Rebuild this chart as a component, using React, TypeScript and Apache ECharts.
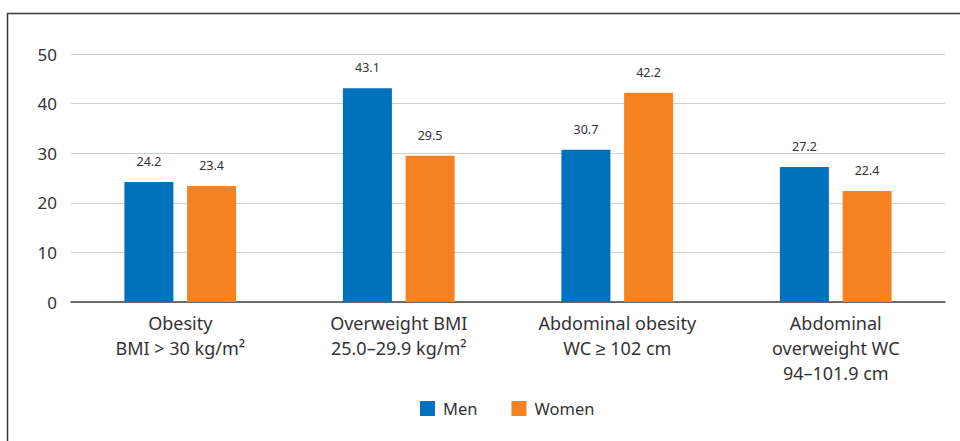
import React, { useEffect, useRef } from "react";
import * as echarts from "echarts";

const categories = [
  "Obesity\nBMI > 30 kg/m²",
  "Overweight BMI\n25.0–29.9 kg/m²",
  "Abdominal obesity\nWC ≥ 102 cm",
  "Abdominal\noverweight WC\n94–101.9 cm",
];
const men = [24.2, 43.1, 30.7, 27.2];
const women = [23.4, 29.5, 42.2, 22.4];
const seriesNames = ["Men", "Women"];

const FONT = "'Noto Sans', sans-serif";

export default function App() {
  const ref = useRef<HTMLDivElement>(null);
  useEffect(() => {
    document.body.style.margin = "0";
    const chart = echarts.init(ref.current!, null, { renderer: "svg" });
    const label = {
      show: true,
      position: "top" as const,
      distance: 14,
      color: "#333",
      fontSize: 12.5,
      fontFamily: FONT,
      formatter: (p: any) => p.value.toFixed(1),
    };
    chart.setOption({
      animation: false,
      textStyle: { fontFamily: FONT },
      graphic: [
        {
          type: "rect",
          shape: { x: 7.5, y: 13.5, width: 1000, height: 600 },
          style: { fill: "none", stroke: "#3a3a3a", lineWidth: 1.5 },
          silent: true,
        },
      ],
      grid: { left: 71, right: 15, top: 54, bottom: 139 },
      legend: {
        data: seriesNames,
        top: 395,
        left: 415,
        itemWidth: 15,
        itemHeight: 15,
        itemGap: 34,
        icon: "rect",
        textStyle: {
          fontSize: 16.5,
          color: "#333",
          fontFamily: FONT,
          padding: [0, 0, 0, 3],
        },
      },
      xAxis: {
        type: "category",
        data: categories,
        axisTick: { show: false },
        axisLine: { lineStyle: { color: "#444", width: 1.5 } },
        axisLabel: {
          interval: 0,
          fontSize: 18,
          lineHeight: 25,
          color: "#333",
          margin: 8,
          fontFamily: FONT,
        },
      },
      yAxis: {
        type: "value",
        min: 0,
        max: 50,
        interval: 10,
        axisLine: { show: false },
        axisTick: { show: false },
        splitLine: { lineStyle: { color: "#cfcfcf", width: 1.2 } },
        axisLabel: { fontSize: 17, color: "#333", margin: 14, fontFamily: FONT },
      },
      series: [
        {
          name: seriesNames[0],
          type: "bar",
          data: men,
          barWidth: 49,
          barGap: "28%",
          itemStyle: { color: "#0071bc" },
          label,
        },
        {
          name: seriesNames[1],
          type: "bar",
          data: women,
          barWidth: 49,
          itemStyle: { color: "#f48221" },
          label,
        },
      ],
    });
    return () => chart.dispose();
  }, []);
  return <div ref={ref} style={{ width: 960, height: 441 }} />;
}
